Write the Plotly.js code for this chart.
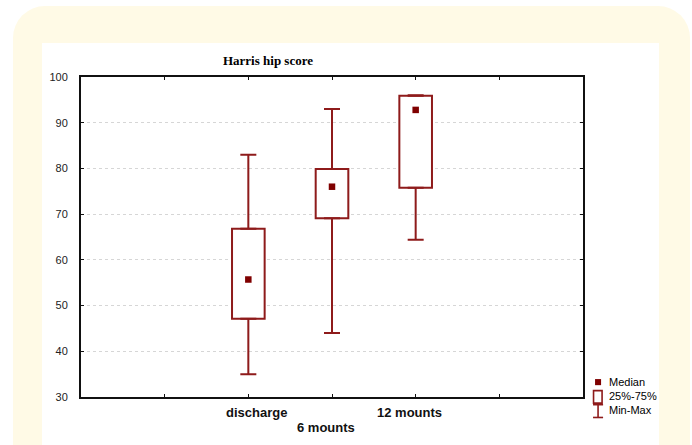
<!DOCTYPE html>
<html>
<head>
<meta charset="utf-8">
<script src="https://cdn.plot.ly/plotly-3.0.1.min.js"></script>
<style>
  html, body { margin:0; padding:0; width:692px; height:445px; overflow:hidden; background:#ffffff; }
  #cream { position:absolute; left:13px; top:6px; width:677px; height:480px; background:#FFFAE6; border-radius:32px; }
  #chart { position:absolute; left:42px; top:43px; width:617px; height:402px; background:#ffffff; }
</style>
</head>
<body>
<div id="cream"></div>
<div id="chart"></div>
<script>
// ---- data ----
const categories = ['discharge', '6 mounts', '12 mounts'];
const minVals    = [35, 44, 64.4];
const q1Vals     = [47.1, 69.1, 75.8];
const medianVals = [55.7, 76, 92.8];
const q3Vals     = [66.8, 79.9, 95.9];
const maxVals    = [83, 93, 96];
const yTicks     = [30, 40, 50, 60, 70, 80, 90, 100];
const legendLabels = ['Median', '25%-75%', 'Min-Max'];

// category positions on a numeric axis (slots 1..5 carry ticks, data in 2..4)
const xPos = categories.map((c, i) => i + 2);
const tickPos = [1, 2, 3, 4, 5];

const RED = '#8E1B1B';
const MED = '#7F0000';

const boxTrace = {
  type: 'bar', x: xPos, base: q1Vals,
  y: q3Vals.map((v, i) => v - q1Vals[i]),
  width: 0.39,
  marker: { color: '#ffffff', line: { color: RED, width: 2 } },
  hoverinfo: 'skip', showlegend: false
};
const upperWhisker = {
  type: 'scatter', mode: 'markers', x: xPos, y: q3Vals,
  marker: { size: 1, opacity: 0 },
  error_y: { type: 'data', symmetric: false,
    array: maxVals.map((v, i) => v - q3Vals[i]),
    arrayminus: q3Vals.map(() => 0),
    color: RED, thickness: 2, width: 8 },
  hoverinfo: 'skip', showlegend: false
};
const lowerWhisker = {
  type: 'scatter', mode: 'markers', x: xPos, y: q1Vals,
  marker: { size: 1, opacity: 0 },
  error_y: { type: 'data', symmetric: false,
    array: q1Vals.map(() => 0),
    arrayminus: minVals.map((v, i) => q1Vals[i] - v),
    color: RED, thickness: 2, width: 8 },
  hoverinfo: 'skip', showlegend: false
};
const medianTrace = {
  type: 'scatter', mode: 'markers', x: xPos, y: medianVals,
  marker: { symbol: 'square', size: 6.5, color: MED },
  hoverinfo: 'skip', showlegend: false
};

const legFont = { family: 'Liberation Sans, Arial, sans-serif', size: 11, color: '#000' };
const legendShapes = [
  { type:'rect', xref:'paper', yref:'paper', x0:1.024, x1:1.036, y0:0.037, y1:0.056, fillcolor:MED, line:{width:0} },
  { type:'rect', xref:'paper', yref:'paper', x0:1.021, x1:1.038, y0:-0.019, y1:0.020, fillcolor:'#fff', line:{color:RED, width:1.6} },
  { type:'line', xref:'paper', yref:'paper', x0:1.030, x1:1.030, y0:-0.024, y1:-0.064, line:{color:RED, width:1.6} },
  { type:'line', xref:'paper', yref:'paper', x0:1.020, x1:1.040, y0:-0.024, y1:-0.024, line:{color:RED, width:1.6} },
  { type:'line', xref:'paper', yref:'paper', x0:1.020, x1:1.040, y0:-0.064, y1:-0.064, line:{color:RED, width:1.6} }
];
const legendAnn = legendLabels.map((t, i) => ({
  xref:'paper', yref:'paper', x:1.047, y:[0.047, 0.002, -0.042][i],
  xanchor:'left', yanchor:'middle', showarrow:false, text:t, font:legFont
}));

// staggered category labels (as in the original software's output)
const catFont = { family: 'Liberation Sans, Arial, sans-serif', size: 13, color: '#111', weight: 'bold' };
const catAnn = categories.map((c, i) => ({
  xref:'x', yref:'paper', x: xPos[i], y: [-0.047, -0.094, -0.047][i],
  xshift: [8, -6, -6][i],
  xanchor:'center', yanchor:'middle', showarrow:false, text:c, font:catFont
}));

const layout = {
  width: 617, height: 402,
  margin: { l: 39, r: 76, t: 34, b: 48 },
  paper_bgcolor: '#ffffff', plot_bgcolor: '#ffffff',
  barmode: 'overlay',
  showlegend: false,
  title: { text: '<b>Harris hip score</b>', xref:'paper', yref:'paper', x: 0.3725, y: 1.034,
           xanchor:'center', yanchor:'middle',
           font: { family: 'Liberation Serif, Times New Roman, serif', size: 13, color: '#000' } },
  xaxis: {
    range: [0, 6], tickmode: 'array', tickvals: tickPos, showticklabels: false,
    showgrid: false, zeroline: false,
    showline: true, linecolor: '#111', linewidth: 2, mirror: 'ticks',
    ticks: 'inside', ticklen: 3, tickcolor: '#111', tickwidth: 1
  },
  yaxis: {
    range: [30, 100], tickmode: 'array', tickvals: yTicks,
    showgrid: true, gridcolor: '#d6d6d6', gridwidth: 1, griddash: 'dot',
    zeroline: false,
    showline: true, linecolor: '#111', linewidth: 2, mirror: 'ticks',
    ticks: 'inside', ticklen: 3, tickcolor: '#111', tickwidth: 1,
    ticklabelstandoff: 9,
    tickfont: { family: 'Liberation Sans, Arial, sans-serif', size: 11, color: '#222' }
  },
  shapes: legendShapes,
  annotations: legendAnn.concat(catAnn)
};

Plotly.newPlot('chart', [boxTrace, upperWhisker, lowerWhisker, medianTrace], layout,
  { displayModeBar: false, staticPlot: true });
</script>
</body>
</html>
